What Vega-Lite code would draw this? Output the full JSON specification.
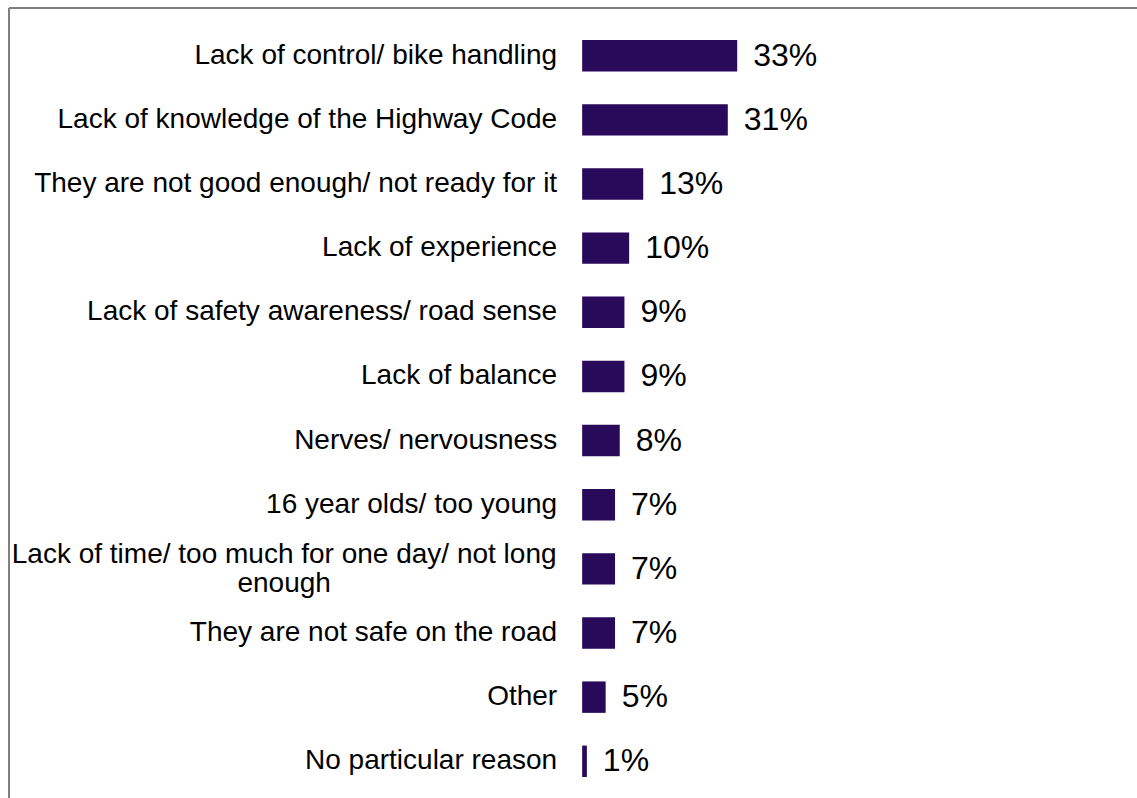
{
  "$schema": "https://vega.github.io/schema/vega-lite/v6.json",
  "width": 1128,
  "height": 790,
  "autosize": {"type": "none"},
  "padding": {"left": 9, "top": 8, "right": 0, "bottom": 0},
  "background": "#ffffff",
  "config": {"view": {"stroke": null}},
  "data": {
    "values": [
      {"reason": "Lack of control/ bike handling", "pct": 33, "label": "33%"},
      {"reason": "Lack of knowledge of the Highway Code", "pct": 31, "label": "31%"},
      {"reason": "They are not good enough/ not ready for it", "pct": 13, "label": "13%"},
      {"reason": "Lack of experience", "pct": 10, "label": "10%"},
      {"reason": "Lack of safety awareness/ road sense", "pct": 9, "label": "9%"},
      {"reason": "Lack of balance", "pct": 9, "label": "9%"},
      {"reason": "Nerves/ nervousness", "pct": 8, "label": "8%"},
      {"reason": "16 year olds/ too young", "pct": 7, "label": "7%"},
      {"reason": "Lack of time/ too much for one day/ not long\nenough", "pct": 7, "label": "7%"},
      {"reason": "They are not safe on the road", "pct": 7, "label": "7%"},
      {"reason": "Other", "pct": 5, "label": "5%"},
      {"reason": "No particular reason", "pct": 1, "label": "1%"}
    ]
  },
  "layer": [
    {
      "encoding": {
        "y": {"field": "reason", "type": "nominal", "sort": null, "axis": null,
              "scale": {"range": [32, 769], "paddingInner": 0.51, "paddingOuter": 0}},
        "x": {"field": "pct", "type": "quantitative", "axis": null,
              "scale": {"domain": [-122, 118.1], "nice": false, "zero": false}}
      },
      "layer": [
        {"mark": {"type": "bar", "color": "#28095A"}},
        {"mark": {"type": "text", "align": "left", "baseline": "middle", "dx": 16, "fontSize": 32, "font": "Liberation Sans", "color": "#000000"},
         "encoding": {"text": {"field": "label"}}},
        {"transform": [{"filter": "indexof(datum.reason, '\\n') < 0"}],
         "mark": {"type": "text", "align": "right", "baseline": "middle", "dx": -25, "fontSize": 28, "font": "Liberation Sans", "color": "#000000"},
         "encoding": {"x": {"datum": 0, "type": "quantitative"}, "text": {"field": "reason"}}},
        {"transform": [{"filter": "indexof(datum.reason, '\\n') >= 0"}],
         "mark": {"type": "text", "align": "center", "baseline": "middle", "dx": -298, "dy": -14, "fontSize": 28, "font": "Liberation Sans", "color": "#000000", "lineBreak": "\n", "lineHeight": 29},
         "encoding": {"x": {"datum": 0, "type": "quantitative"}, "text": {"field": "reason"}}}
      ]
    },
    {
      "mark": {"type": "rule", "color": "#7f7f7f", "strokeWidth": 2},
      "encoding": {"x": {"datum": -122, "type": "quantitative"}}
    },
    {
      "mark": {"type": "rule", "color": "#7f7f7f", "strokeWidth": 2},
      "encoding": {
        "y": {"datum": 1, "type": "quantitative", "axis": null, "scale": {"domain": [0, 1]}},
        "x": {"datum": -122, "type": "quantitative"},
        "x2": {"datum": 118.1}
      }
    }
  ],
  "resolve": {"scale": {"y": "independent"}}
}
